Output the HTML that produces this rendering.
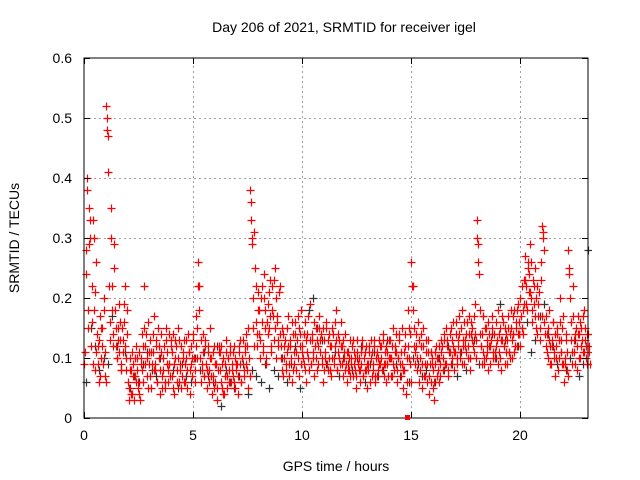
<!DOCTYPE html>
<html><head><meta charset="utf-8"><style>
body{margin:0;background:#fff;}
svg{display:block;font-family:"Liberation Sans",sans-serif;}
</style></head><body>
<svg id="chart" width="640" height="480" viewBox="0 0 640 480">
<rect width="640" height="480" fill="#fff"/>
<defs><clipPath id="pc"><rect x="80" y="54" width="512" height="368"/></clipPath></defs>
<text x="344" y="32" font-size="14" text-anchor="middle">Day 206 of 2021, SRMTID for receiver igel</text>
<text x="336" y="471" font-size="14" text-anchor="middle">GPS time / hours</text>
<text x="19" y="238" font-size="14" text-anchor="middle" transform="rotate(-90 19 238)">SRMTID / TECUs</text>
<g id="grid"></g>
<g id="black" clip-path="url(#pc)"></g>
<g id="red" clip-path="url(#pc)"></g>
<rect x="84" y="58" width="504" height="360" fill="none" stroke="#000" stroke-width="1"/>
<g id="axes"></g>
<rect x="405" y="415" width="5" height="5" fill="#f00"/>
</svg>
<script>
const xTicks=[0,5,10,15,20];
const yTicks=[0,0.1,0.2,0.3,0.4,0.5,0.6];
const yTickLabels=["0","0.1","0.2","0.3","0.4","0.5","0.6"];
const binStep=0.2;
// red series values (TECU*100), 4 samples per 0.2h bin starting at 0h
const redVals=[
9,28,40,15, 35,30,12,22, 33,18,8,26, 12,6,17,10, 15,9,20,7,
52,48,41,16, 35,22,14,29, 18,12,10,15, 11,16,8,13, 19,22,10,14,
6,3,10,8, 4,9,7,12, 8,5,11,3, 10,14,6,22, 12,7,16,9,
13,5,9,11, 17,8,12,6, 10,4,14,7, 8,12,5,15, 11,6,9,13,
7,14,4,10, 12,8,15,6, 9,5,11,13, 6,10,8,14, 11,4,9,7,
13,8,17,10, 26,22,10,6, 9,14,7,12, 5,11,8,15, 10,4,7,12,
6,9,3,11, 8,12,5,10, 4,9,13,7, 10,6,11,8, 7,12,5,9,
9,4,11,13, 6,10,8,12, 14,8,5,10, 38,33,29,15, 31,22,12,18,
14,10,20,16, 12,24,18,9, 19,15,23,11, 22,17,13,25, 20,16,12,22,
10,15,7,12, 13,8,11,17, 9,12,6,14, 11,16,8,13, 10,7,14,18,
12,9,16,6, 14,10,8,19, 9,13,11,7, 15,8,12,17, 11,14,9,6,
13,10,16,8, 10,12,7,15, 14,9,12,18, 8,11,13,16, 12,7,10,14,
9,6,11,8, 7,10,13,9, 8,5,11,9, 10,6,9,12, 7,11,8,5,
9,12,6,10, 11,8,13,6, 7,10,9,12, 12,8,14,9, 9,6,11,13,
13,10,7,15, 8,12,11,6, 10,14,7,9, 5,8,12,4, 6,18,10,14,
26,22,15,9, 12,8,16,6, 10,14,5,12, 7,11,9,13, 4,9,6,10,
8,3,11,7, 10,6,9,13, 12,8,14,9, 9,13,7,11, 15,10,12,8,
11,16,9,13, 14,10,18,12, 9,13,11,16, 12,17,8,14, 15,11,19,13,
33,29,24,14, 12,9,17,10, 15,11,8,14, 9,13,17,11, 14,10,12,18,
11,15,8,13, 16,12,9,14, 13,17,10,15, 10,14,18,12, 16,12,19,14,
20,15,18,23, 27,22,18,25, 24,29,20,16, 19,25,15,22, 17,21,13,26,
32,31,16,12, 14,10,18,12, 9,13,16,11, 7,12,15,10, 20,13,9,17,
6,10,14,8, 28,25,16,11, 22,13,9,15, 12,17,14,10, 15,11,18,13,
12,9,14,11
];
// second red sample set (TECU*100), 4 per 0.2h bin, offset within bin
const redVals2=[
11,24,38,18, 29,33,16,9, 30,21,11,14, 9,13,7,15, 12,18,11,6,
50,47,22,13, 30,18,12,25, 15,10,13,19, 13,9,15,11, 16,12,8,18,
5,8,4,11, 7,3,10,6, 10,6,4,9, 8,12,15,9, 14,10,5,11,
7,11,14,8, 9,13,6,15, 12,8,11,5, 10,6,13,9, 8,14,7,12,
11,5,9,13, 6,10,13,8, 12,7,10,6, 9,13,5,11, 8,12,10,14,
10,6,12,15, 22,18,13,8, 11,7,13,9, 8,12,6,10, 7,11,5,9,
9,5,8,12, 11,6,9,4, 7,11,5,10, 8,12,6,9, 11,6,10,8,
7,12,9,6, 10,13,7,11, 9,12,15,7, 36,30,20,12, 25,16,14,21,
18,13,22,11, 20,15,10,16, 14,21,17,12, 18,23,15,10, 17,13,21,14,
12,8,14,10, 9,15,12,7, 13,10,16,8, 9,14,11,17, 15,12,9,11,
10,14,8,13, 11,17,13,9, 14,10,16,12, 10,13,9,15, 13,10,15,8,
11,15,9,13, 14,8,12,10, 10,16,13,8, 14,10,9,12, 9,13,11,8,
11,8,10,13, 9,12,7,11, 10,7,13,8, 8,11,13,7, 10,8,12,9,
8,11,13,7, 9,12,7,10, 11,8,13,9, 10,13,7,11, 12,9,7,10,
10,7,12,9, 11,14,8,10, 13,9,11,15, 8,11,14,10, 12,15,9,6,
22,18,12,11, 14,10,13,8, 12,9,15,7, 9,13,6,11, 7,11,9,5,
6,9,12,10, 8,12,7,11, 10,13,9,15, 12,8,11,14, 9,13,16,11,
14,10,12,17, 11,15,9,13, 16,12,14,10, 14,10,16,13, 12,17,14,10,
30,26,18,12, 14,11,9,15, 10,13,16,12, 12,15,10,14, 11,16,13,9,
14,10,13,17, 12,15,11,9, 15,11,14,18, 13,17,11,15, 18,14,16,12,
17,22,14,19, 23,19,26,21, 21,26,18,23, 22,17,20,14, 19,15,23,17,
30,28,14,17, 11,15,13,9, 12,16,10,14, 10,14,8,13, 16,11,15,9,
9,13,11,7, 24,20,13,9, 17,11,14,8, 14,10,16,12, 13,17,11,15,
10,14,12,9
];
// black series values (TECU*100), 1 sample per 0.2h bin
const blackVals=[
6,15,12,8,10,9,17,12,8,11,5,7,6,9,11,8,7,10,6,9,
8,5,9,7,6,10,8,11,7,6,12,2,8,6,5,7,9,4,8,7,
6,9,5,8,7,10,6,9,12,5,14,18,20,15,13,9,8,11,7,10,
9,8,10,12,6,9,11,7,8,13,10,9,7,8,6,10,9,7,8,11,
6,10,8,12,9,7,11,8,10,13,9,17,12,14,10,19,13,11,14,12,
15,16,11,13,17,19,14,12,9,11,8,10,13,7,9,28
];
const NS="http://www.w3.org/2000/svg";
const X0=84,X1=588,Y0=418,Y1=58,xMax=(X1-X0)/21.8,yMax=0.6;
function xs(v){return X0+v/xMax*(X1-X0);}
function ys(v){return Y0-v/yMax*(Y0-Y1);}
const grid=document.getElementById('grid'),axes=document.getElementById('axes');
function line(g,x1,y1,x2,y2,st,dash){const l=document.createElementNS(NS,'line');l.setAttribute('x1',x1);l.setAttribute('y1',y1);l.setAttribute('x2',x2);l.setAttribute('y2',y2);l.setAttribute('stroke',st);if(dash)l.setAttribute('stroke-dasharray',dash);g.appendChild(l);return l;}
function txt(g,x,y,s,anchor){const t=document.createElementNS(NS,'text');t.setAttribute('x',x);t.setAttribute('y',y);t.setAttribute('font-size','14');t.setAttribute('text-anchor',anchor);t.textContent=s;g.appendChild(t);return t;}
xTicks.forEach(v=>{const x=xs(v)+0.5;
 if(v>0){const gl=line(grid,x,Y0,x,Y1,'#a0a0a0','2,3');}
 const t1=line(axes,x,Y0,x,Y0-6,'#000');
 const t2=line(axes,x,Y1,x,Y1+6,'#000');
 const lb=txt(axes,xs(v),440,String(v),'middle');});
yTicks.forEach((v,i)=>{const y=Math.round(ys(v))+0.5;
 if(i>0&&i<yTicks.length-1){const gl=line(grid,X0,y,X1,y,'#a0a0a0','2,3');}
 const t1=line(axes,X0,y,X0+6,y,'#000');
 const t2=line(axes,X1,y,X1-6,y,'#000');
 const lb=txt(axes,72,ys(v)+5,yTickLabels[i],'end');});
function plus(g,x,y,c){const p=document.createElementNS(NS,'path');p.setAttribute('d',`M${x-4} ${y}h8M${x} ${y-4}v8`);p.setAttribute('stroke',c);p.setAttribute('stroke-width','1.2');p.setAttribute('fill','none');
 
 
 g.appendChild(p);}
const bg=document.getElementById('black'),rg=document.getElementById('red');
blackVals.forEach((v,i)=>{const t=i*binStep+0.1;plus(bg,Math.round(xs(t))+0.5,Math.round(ys(v/100))+0.5,'#333');});
redVals.forEach((v,i)=>{const t=Math.floor(i/4)*binStep+(i%4)*0.05+0.02;plus(rg,Math.round(xs(t))+0.5,Math.round(ys(v/100))+0.5,'#f00');});
redVals2.forEach((v,i)=>{const t=Math.floor(i/4)*binStep+(i%4)*0.05+0.045;plus(rg,Math.round(xs(t))+0.5,Math.round(ys(v/100))+0.5,'#f00');});
</script>
</body></html>
